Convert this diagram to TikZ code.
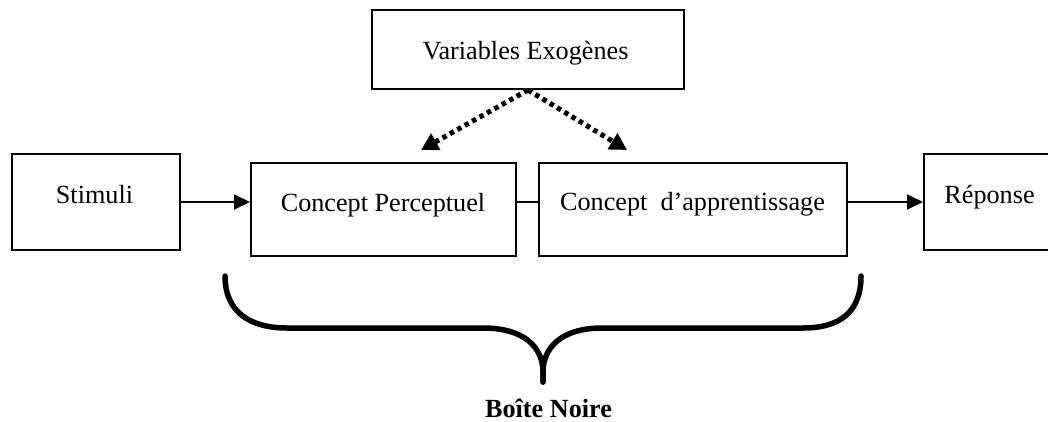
\documentclass[tikz,border=0pt]{standalone}
\usepackage{fontspec}
\setmainfont{Liberation Serif}
\usetikzlibrary{arrows.meta}
\begin{document}
\begin{tikzpicture}[x=1pt,y=-1pt,
  box/.style={draw, line width=2pt, rectangle, inner sep=0pt, anchor=north west},
  txt/.style={inner sep=0pt, anchor=base, font=\fontsize{26.2}{31}\selectfont},
  btxt/.style={inner sep=0pt, anchor=base, font=\fontsize{26.2}{31}\selectfont\bfseries},
  arr/.style={line width=1.8pt, -{Triangle[length=16pt,width=15pt]}},
  plain/.style={line width=1.8pt},
  dots/.style={line width=5pt, dash pattern=on 4.5pt off 4pt, -{Triangle[length=17pt,width=18pt]}},
  bracestyle/.style={line width=5.5pt, line cap=round, line join=round}]
\useasboundingbox (0,0) rectangle (1048,421);
% boxes
\node[box, minimum width=312pt, minimum height=79pt] (ve) at (371,9) {};
\node[box, minimum width=168pt, minimum height=96pt] (stim) at (11,153) {};
\node[box, minimum width=265pt, minimum height=93pt] (cp) at (250,162) {};
\node[box, minimum width=308pt, minimum height=93pt] (ca) at (538,162) {};
\node[box, minimum width=133pt, minimum height=96pt] (rep) at (923,153) {};
% texts
\node[txt] (vet) at (525.5,59) {Variables Exogènes};
\node[txt] (stimt) at (94.5,203) {Stimuli};
\node[txt] (cpt) at (383,211) {Concept Perceptuel};
\node[txt] (cat) at (692.5,210) {Concept~ d’apprentissage};
\node[txt] (rept) at (989.5,203) {Réponse};
\node[btxt] (bn) at (548.5,417) {Boîte Noire};
% connectors
\draw[arr] (stim.east) -- (stim.east -| cp.west);
\draw[plain] (cp.east |- stim.east) -- (ca.west |- stim.east);
\draw[arr] (ca.east |- rep.west) -- (rep.west);
\coordinate (tipL) at (421,150);
\coordinate (tipR) at (627,150);
\draw[dots] (ve.south) -- (tipL);
\draw[dots] (ve.south) -- (tipR);
% brace
\draw[bracestyle] (225,276) .. controls (225,312) and (250,328) .. (287,328)
  -- (483,328) .. controls (525,328) and (543,348) .. (543,372) -- (543,382);
\draw[bracestyle] (543,382) -- (543,372) .. controls (543,348) and (561,328) .. (602,328)
  -- (803,328) .. controls (840,328) and (861,312) .. (861,276);
\end{tikzpicture}
\end{document}
